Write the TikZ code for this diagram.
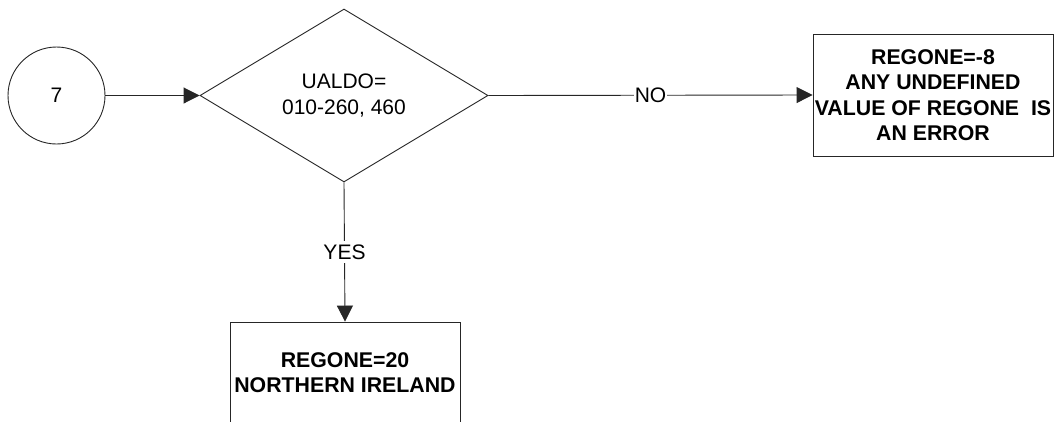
\documentclass[tikz,border=0pt]{standalone}
\usepackage{fontspec}
\setmainfont{Liberation Sans}
\usetikzlibrary{shapes.geometric,arrows.meta}
\tikzset{
  base/.style={draw=black!85, line width=0.9pt, inner sep=0pt, align=center,
    font=\fontsize{21}{25.5}\selectfont},
  conn/.style={circle, base, minimum size=97pt},
  decide/.style={diamond, base, minimum width=288pt, minimum height=173pt},
  procbox/.style={rectangle, base, font=\fontsize{21.3}{25.5}\selectfont\bfseries},
  flow/.style={draw=black!85, line width=0.9pt, -{Triangle[length=16pt,width=16pt]}},
  lbl/.style={fill=white, inner xsep=1pt, inner ysep=4pt, font=\fontsize{21}{25.5}\selectfont}
}
\begin{document}
\begin{tikzpicture}[x=1pt,y=-1pt]
\useasboundingbox (0,0) rectangle (1055,421);
\clip (0,0) rectangle (1055,421);
\node[conn] (c) at (56.5,95.5) {7};
\node[decide] (d) at (344,95.5) {UALDO=\\010-260, 460};
\node[procbox, minimum width=240pt, minimum height=122pt] (r) at (933,95)
  {REGONE=-8\\ANY UNDEFINED\\VALUE OF REGONE\ \ IS\\AN ERROR};
\node[procbox, minimum width=230pt, minimum height=101pt] (b) at (345,372.5)
  {REGONE=20\\NORTHERN IRELAND};
\draw[flow] (c) -- (d.west);
\draw[flow] (d.east) -- node[lbl] {NO} (r.west);
\draw[flow] (d.south) -- node[lbl] {YES} (b.north);
\end{tikzpicture}
\end{document}
